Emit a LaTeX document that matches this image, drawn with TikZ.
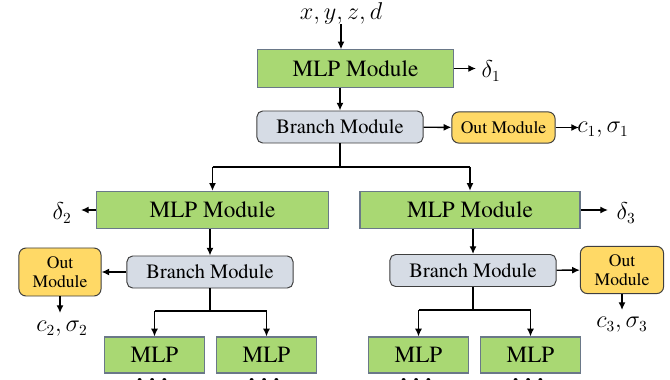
\documentclass[tikz,border=0pt]{standalone}
\usepackage{fontspec}
\setmainfont{TeX Gyre Termes}
\usepackage{amsmath}
\usepackage{tikz}
\usetikzlibrary{shapes,arrows.meta}
\usepackage{color}

\definecolor{mlpgreen}{HTML}{A9D873}
\definecolor{mlpedge}{HTML}{6A7888}
\definecolor{branchgray}{HTML}{D6DCE5}
\definecolor{outyellow}{HTML}{FFD966}
\definecolor{boxedge}{HTML}{3F3F3F}

\begin{document}
\begin{tikzpicture}[x=0.025cm,y=-0.025cm,font=\rmfamily]
  \tikzstyle{mlp}=[draw=mlpedge,fill=mlpgreen,line width=0.8pt,inner sep=0pt,font=\rmfamily\fontsize{16.5}{18}\selectfont]
  \tikzstyle{branch}=[draw=boxedge,fill=branchgray,rounded corners=4pt,line width=0.7pt,inner sep=0pt,minimum width=4.15cm,minimum height=0.8cm,font=\rmfamily\fontsize{14.5}{16}\selectfont]
  \tikzstyle{outbox}=[draw=boxedge,fill=outyellow,rounded corners=5pt,line width=0.7pt,inner sep=0pt,align=center,font=\rmfamily\fontsize{12.5}{13.5}\selectfont]
  \tikzstyle{lbl}=[inner sep=0pt,font=\fontsize{16}{18}\selectfont]
  \tikzstyle{arr}=[-{Latex[length=5.5pt,width=5pt]},line width=1pt]
  \tikzstyle{tree}=[line width=1pt]
  \useasboundingbox (0,0) rectangle (670,380);

  % top level
  \node[lbl] (in) at (341,13) {$x,y,z,d$};
  \node[mlp,minimum width=4.88cm,minimum height=0.93cm] (mlp1) at (355.5,68.5) {MLP Module};
  \node[branch] (br1) at (340,127) {Branch Module};
  \node[outbox,minimum width=2.58cm,minimum height=0.78cm] (out1) at (503.5,127.5) {Out Module};
  \node[lbl] (d1) at (491,71) {$\delta_1$};
  \node[lbl] (c1) at (603,130) {$c_1,\sigma_1$};

  \draw[arr] (in) -- (mlp1.north -| in);
  \draw[arr] (mlp1.east) -- (476,68.5) coordinate (d1e);
  \draw[arr] (mlp1.south -| br1) -- (br1);
  \draw[arr] (br1) -- (out1);
  \draw[arr] (out1) -- (579,127.5) coordinate (c1e);

  % second level
  \node[mlp,minimum width=5.78cm,minimum height=0.93cm] (mlp2) at (212.5,210) {MLP Module};
  \node[mlp,minimum width=5.5cm,minimum height=0.93cm] (mlp3) at (470,210) {MLP Module};
  \coordinate (j1) at (340,167);
  \draw[tree] (br1) -- (j1);
  \draw[tree] (j1 -| mlp2) -- (j1 -| mlp3);
  \draw[arr] (j1 -| mlp2) -- (mlp2);
  \draw[arr] (j1 -| mlp3) -- (mlp3);
  \node[lbl] (d2) at (62,213) {$\delta_2$};
  \node[lbl] (d3) at (626,213) {$\delta_3$};
  \draw[arr] (mlp2.west) -- (81,210) coordinate (d2e);
  \draw[arr] (mlp3.east) -- (608,210) coordinate (d3e);

  % left branch
  \node[branch] (br2) at (210,272) {Branch Module};
  \node[outbox,minimum width=2.05cm,minimum height=1.2cm] (out2) at (60,272) {Out\\Module};
  \node[lbl] (c2) at (62,329) {$c_2,\sigma_2$};
  \draw[arr] (mlp2.south -| br2) -- (br2);
  \draw[arr] (br2) -- (out2);
  \draw[arr] (out2) -- (60,313) coordinate (c2e);

  % right branch
  \node[branch] (br3) at (473,270.5) {Branch Module};
  \node[outbox,minimum width=2.08cm,minimum height=1.18cm] (out3) at (622,270) {Out\\Module};
  \node[lbl] (c3) at (622,325) {$c_3,\sigma_3$};
  \draw[arr] (mlp3.south -| br3) -- (br3);
  \draw[arr] (br3) -- (out3);
  \draw[arr] (out3) -- (622,310) coordinate (c3e);

  % leaves, with the dots running on below them
  \foreach \n/\cx in {l1/154.5, l2/266.5, l3/418.5, l4/530.5}{
    \node[mlp,minimum width=2.48cm,minimum height=0.9cm] (\n) at (\cx,355) {MLP};
    \node[lbl] (\n dots) at (\cx,381) {$\boldsymbol{\cdots}$};
  }
  \draw[tree] (br2) -- (210,311) coordinate (j2);
  \draw[tree] (j2 -| l1) -- (j2 -| l2);
  \draw[arr] (j2 -| l1) -- (l1);
  \draw[arr] (j2 -| l2) -- (l2);
  \draw[tree] (br3) -- (473,310) coordinate (j3);
  \draw[tree] (j3 -| l3) -- (j3 -| l4);
  \draw[arr] (j3 -| l3) -- (l3);
  \draw[arr] (j3 -| l4) -- (l4);
\end{tikzpicture}
\end{document}
